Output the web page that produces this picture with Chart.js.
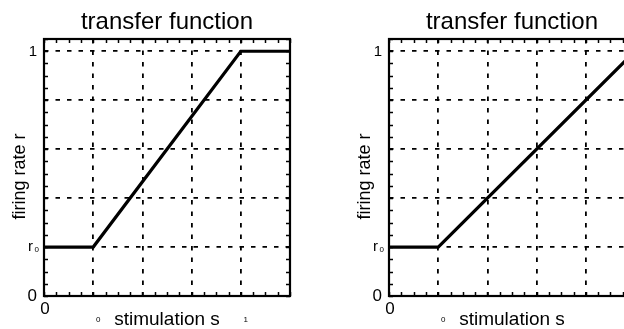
<!DOCTYPE html>
<html>
<head>
<meta charset="utf-8">
<script src="https://cdn.jsdelivr.net/npm/chart.js@4/dist/chart.umd.min.js"></script>
<style>
  html, body { margin: 0; padding: 0; background: #fff; overflow: hidden; }
  .panel { position: absolute; top: 0; height: 329px; overflow: hidden; }
  #p1 { left: 0; width: 312px; }
  #p2 { left: 312px; width: 312px; }
  canvas { display: block; }
</style>
</head>
<body>
<div class="panel" id="p1"><canvas id="c1" width="312" height="329"></canvas></div>
<div class="panel" id="p2"><canvas id="c2" width="330" height="329"></canvas></div>
<script>
// Stimulation axis and grid positions
const sMin = 0, sMax = 5;
const sGrid = [1, 2, 3, 4];
const rMin = 0, rMax = 1.05;
const rGrid = [0.2, 0.4, 0.6, 0.8, 1.0];
const rZero = 0.2;

// Saturating transfer function (left)
const sSaturating = [0, 1, 4, 5];
const rSaturating = [0.2, 0.2, 1.0, 1.0];
// Threshold-linear transfer function (right)
const sLinear = [0, 1, 5];
const rLinear = [0.2, 0.2, 1.0];

// Tick labels
const titleText = 'transfer function';
const xTitle = 'stimulation s';
const yTitle = 'firing rate r';
const yTickOne = '1';
const yTickZero = '0';
const xTickZero = '0';

const FONT = '"Liberation Sans", Arial, Helvetica, sans-serif';

const axesDecor = {
  id: 'axesDecor',
  afterDraw(chart, args, opts) {
    const { ctx, chartArea: a, scales: { x, y } } = chart;
    ctx.save();
    ctx.strokeStyle = '#000';
    ctx.fillStyle = '#000';
    // inward minor ticks on all four sides
    ctx.lineWidth = 1.5;
    const tl = 4;
    ctx.beginPath();
    for (let i = 0; i <= 21; i++) {
      const py = Math.round(y.getPixelForValue(i * 0.05)) + 0.5;
      ctx.moveTo(a.left, py); ctx.lineTo(a.left + tl, py);
      ctx.moveTo(a.right, py); ctx.lineTo(a.right - tl, py);
    }
    for (let i = 0; i <= 20; i++) {
      const px = Math.round(x.getPixelForValue(i * 0.25)) + 0.5;
      ctx.moveTo(px, a.top); ctx.lineTo(px, a.top + tl);
      ctx.moveTo(px, a.bottom); ctx.lineTo(px, a.bottom - tl);
    }
    ctx.stroke();
    // axes box
    ctx.lineWidth = 2.2;
    ctx.strokeRect(a.left, a.top, a.right - a.left, a.bottom - a.top);

    const cx = (x.getPixelForValue(sMin) + x.getPixelForValue(sMax)) / 2;
    // title
    ctx.textAlign = 'center';
    ctx.textBaseline = 'alphabetic';
    ctx.font = '24px ' + FONT;
    ctx.fillText(titleText, cx, 29);
    // x label
    ctx.font = '19px ' + FONT;
    ctx.fillText(xTitle, cx, 325);
    // y label
    ctx.save();
    ctx.translate(a.left - 19, (a.top + a.bottom) / 2 + 9);
    ctx.rotate(-Math.PI / 2);
    ctx.textAlign = 'center';
    ctx.font = '18px ' + FONT;
    ctx.fillText(yTitle, 0, 0);
    ctx.restore();

    // y tick labels
    ctx.textAlign = 'right';
    ctx.textBaseline = 'middle';
    ctx.font = '15px ' + FONT;
    ctx.fillText(yTickOne, a.left - 7, y.getPixelForValue(1) + 1);
    ctx.font = '17px ' + FONT;
    ctx.fillText(yTickZero, a.left - 7, y.getPixelForValue(0));
    // r with subscript 0
    const pr = y.getPixelForValue(rZero);
    ctx.font = '8px ' + FONT;
    ctx.fillText('0', a.left - 5, pr + 3);
    ctx.font = '15px ' + FONT;
    ctx.fillText('r', a.left - 11, pr);
    // x tick label at origin
    ctx.textAlign = 'center';
    ctx.font = '17px ' + FONT;
    ctx.fillText(xTickZero, x.getPixelForValue(0) + 1, a.bottom + 13);
    // ramp corner markers
    ctx.font = '8px ' + FONT;
    (opts.marks || []).forEach(m => {
      ctx.fillText(m.text, x.getPixelForValue(m.s) + 5, a.bottom + 24);
    });
    ctx.restore();
  }
};

function makeChart(id, sVals, rVals, pad, marks) {
  const gridOpts = () => ({
    color: '#000',
    lineWidth: 1.8,
    drawTicks: false,
  });
  return new Chart(document.getElementById(id), {
    type: 'line',
    data: {
      datasets: [{
        data: sVals.map((s, i) => ({ x: s, y: rVals[i] })),
        borderColor: '#000',
        borderWidth: 3.2,
        pointRadius: 0,
        tension: 0,
        fill: false,
      }]
    },
    options: {
      responsive: false,
      animation: false,
      events: [],
      layout: { padding: pad },
      plugins: {
        legend: { display: false },
        tooltip: { enabled: false },
        title: { display: false },
        axesDecor: { marks: marks },
      },
      scales: {
        x: {
          type: 'linear', min: sMin, max: sMax,
          afterBuildTicks: sc => { sc.ticks = sGrid.map(v => ({ value: v })); },
          ticks: { display: false },
          grid: gridOpts(),
          border: { display: false, dash: [4.5, 7] },
        },
        y: {
          type: 'linear', min: rMin, max: rMax,
          afterBuildTicks: sc => { sc.ticks = rGrid.map(v => ({ value: v })); },
          ticks: { display: false },
          grid: gridOpts(),
          border: { display: false, dash: [4.5, 7] },
        }
      }
    },
    plugins: [axesDecor]
  });
}

makeChart('c1', sSaturating, rSaturating,
  { left: 44, right: 22, top: 39, bottom: 33 },
  [{ s: 1, text: '0' }, { s: 4, text: '1' }]);
makeChart('c2', sLinear, rLinear,
  { left: 77, right: 7, top: 39, bottom: 33 },
  [{ s: 1, text: '0' }, { s: 5, text: '1' }]);
</script>
</body>
</html>
